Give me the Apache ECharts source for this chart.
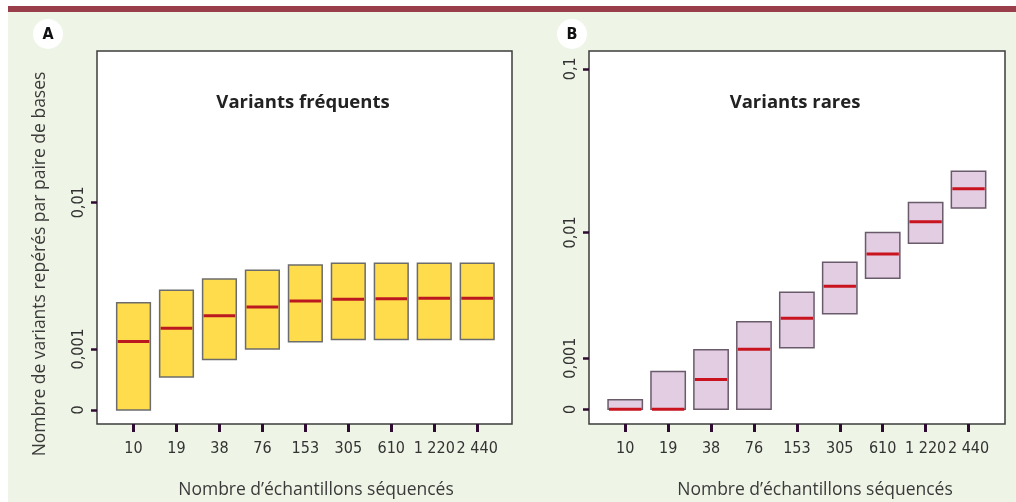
<!DOCTYPE html>
<html>
<head>
<meta charset="utf-8">
<script src="https://cdn.jsdelivr.net/npm/echarts@6/dist/echarts.min.js"></script>
<style>
html,body{margin:0;padding:0;background:#fff;}
#chart{width:1016px;height:502px;}
</style>
</head>
<body>
<div id="chart"></div>
<script>
// ---- data ----
const categories = ['10', '19', '38', '76', '153', '305', '610', '1 220', '2 440'];

const freqQ1     = [0,       0.00045, 0.00077, 0.00100, 0.00117, 0.00123, 0.00123, 0.00123, 0.00123];
const freqMedian = [0.00118, 0.00154, 0.00193, 0.00224, 0.00248, 0.00255, 0.00257, 0.00259, 0.00259];
const freqQ3     = [0.00241, 0.00294, 0.00349, 0.00397, 0.00429, 0.00439, 0.00439, 0.00439, 0.00439];

const rareQ1     = [0,       0,       0,       0,       0.00130, 0.00265, 0.0049, 0.0085, 0.0143];
const rareMedian = [0,       0,       0.0005,  0.00126, 0.00243, 0.0043,  0.0072, 0.0117, 0.0189];
const rareQ3     = [0.00014, 0.00067, 0.00124, 0.00228, 0.00388, 0.00633, 0.0100, 0.0155, 0.0242];

const yTicksFreq = [0, 0.001, 0.01];
const yTickLabelsFreq = ['0', '0,001', '0,01'];
const yTicksRare = [0, 0.001, 0.01, 0.1];
const yTickLabelsRare = ['0', '0,001', '0,01', '0,1'];

const titleFreq = 'Variants fréquents';
const titleRare = 'Variants rares';
const xTitle = 'Nombre d\u2019échantillons séquencés';
const yTitle = 'Nombre de variants repérés par paire de bases';

// ---- scale transform (log of value + offset, so that 0 can be shown) ----
const offFreq = 0.00095, offRare = 0.001;
const tA = v => Math.log10(v + offFreq);
const tB = v => Math.log10(v + offRare);

function build(q1, med, q3, t) {
  return categories.map((c, i) => [i, t(q1[i]), t(med[i]), t(q3[i])]);
}
const dataA = build(freqQ1, freqMedian, freqQ3, tA);
const dataB = build(rareQ1, rareMedian, rareQ3, tB);

const labelFont = '"DejaVu Sans Condensed", "Liberation Sans Narrow", sans-serif';
const textFont = '"Open Sans", sans-serif';
const tickColor = '#2e0b30';

function yAxisFor(gridIndex, min, max, ticks, labels, t) {
  const vals = ticks.map(t);
  return {
    type: 'value', gridIndex, min, max, position: 'left',
    axisLine: {show: false, onZero: false},
    splitLine: {show: false},
    axisTick: {show: true, length: 6, lineStyle: {color: tickColor, width: 2.5}, customValues: vals},
    axisLabel: {
      show: true, rotate: 90, margin: 10, color: '#333', fontSize: 16, fontFamily: labelFont,
      showMinLabel: true, showMaxLabel: true, hideOverlap: false,
      customValues: vals,
      formatter: v => {
        for (let i = 0; i < vals.length; i++) if (Math.abs(vals[i] - v) < 1e-6) return labels[i];
        return '';
      }
    }
  };
}
function xAxisFor(gridIndex, min, max) {
  const vals = categories.map((c, i) => i);
  return {
    type: 'value', gridIndex, min, max, position: 'bottom',
    axisLine: {show: false, onZero: false},
    splitLine: {show: false},
    axisTick: {show: true, length: 8, lineStyle: {color: tickColor, width: 3}, customValues: vals},
    axisLabel: {
      show: true, margin: 17, color: '#333', fontSize: 16, fontFamily: labelFont,
      showMinLabel: true, showMaxLabel: true, hideOverlap: false,
      customValues: vals,
      formatter: v => categories[Math.round(v)] || ''
    }
  };
}

function boxSeries(idx, data, fill, stroke, medColor, wFrac) {
  return {
    type: 'custom', xAxisIndex: idx, yAxisIndex: idx,
    data,
    encode: {x: 0, y: [1, 2, 3]},
    renderItem: (params, api) => {
      const x = api.value(0);
      const lo = api.coord([x, api.value(1)]);
      const md = api.coord([x, api.value(2)]);
      const hi = api.coord([x, api.value(3)]);
      const w = api.size([wFrac, 0])[0];
      return {
        type: 'group',
        children: [
          {type: 'rect', shape: {x: lo[0] - w / 2, y: hi[1], width: w, height: lo[1] - hi[1]},
           style: {fill, stroke, lineWidth: 1.5}},
          {type: 'line', shape: {x1: lo[0] - w / 2 + 1, y1: md[1], x2: lo[0] + w / 2 - 1, y2: md[1]},
           style: {stroke: medColor, lineWidth: 3}}
        ]
      };
    }
  };
}

const chart = echarts.init(document.getElementById('chart'), null, {renderer: 'canvas'});
chart.setOption({
  backgroundColor: '#ffffff',
  animation: false,
  grid: [
    {left: 97, top: 51, width: 415, height: 373, show: true, backgroundColor: '#fff', borderColor: '#3c3c3c', borderWidth: 1.5},
    {left: 589, top: 51, width: 416, height: 373, show: true, backgroundColor: '#fff', borderColor: '#3c3c3c', borderWidth: 1.5}
  ],
  xAxis: [xAxisFor(0, -0.85, 8.81), xAxisFor(1, -0.844, 8.85)],
  yAxis: [
    yAxisFor(0, -3.0939, -1.1869, yTicksFreq, yTickLabelsFreq, tA),
    yAxisFor(1, -3.0865, -0.891, yTicksRare, yTickLabelsRare, tB)
  ],
  series: [
    boxSeries(0, dataA, '#fedc4c', '#6c6c6c', '#bb1820', 0.784),
    boxSeries(1, dataB, '#e2cde3', '#6a5b6a', '#c9141f', 0.8)
  ],
  graphic: [
    {type: 'rect', z: -100, silent: true, shape: {x: 8, y: 6, width: 1008, height: 496}, style: {fill: '#eef4e6'}},
    {type: 'rect', z: -99, silent: true, shape: {x: 8, y: 6, width: 1008, height: 6}, style: {fill: '#9b3e4b'}},
    {type: 'circle', shape: {cx: 48, cy: 34, r: 15}, style: {fill: '#fff'}},
    {type: 'text', x: 48, y: 35, style: {text: 'A', fontSize: 16, fontWeight: 'bold', fontFamily: labelFont, fill: '#111', align: 'center', verticalAlign: 'middle'}},
    {type: 'circle', shape: {cx: 572, cy: 34, r: 15}, style: {fill: '#fff'}},
    {type: 'text', x: 572, y: 35, style: {text: 'B', fontSize: 16, fontWeight: 'bold', fontFamily: labelFont, fill: '#111', align: 'center', verticalAlign: 'middle'}},
    {type: 'text', x: 303, y: 103, z: 10, style: {text: titleFreq, fontSize: 18.5, fontWeight: 'bold', fontFamily: textFont, fill: '#222', align: 'center', verticalAlign: 'middle'}},
    {type: 'text', x: 795, y: 103, z: 10, style: {text: titleRare, fontSize: 18.5, fontWeight: 'bold', fontFamily: textFont, fill: '#222', align: 'center', verticalAlign: 'middle'}},
    {type: 'text', x: 316, y: 490, style: {text: xTitle, fontSize: 17.5, fontFamily: textFont, fill: '#3a3a3a', align: 'center', verticalAlign: 'middle'}},
    {type: 'text', x: 815, y: 490, style: {text: xTitle, fontSize: 17.5, fontFamily: textFont, fill: '#3a3a3a', align: 'center', verticalAlign: 'middle'}},
    {type: 'text', x: 40, y: 264, rotation: Math.PI / 2, style: {text: yTitle, fontSize: 17.5, fontFamily: textFont, fill: '#3a3a3a', align: 'center', verticalAlign: 'middle'}}
  ]
});
</script>
</body>
</html>
